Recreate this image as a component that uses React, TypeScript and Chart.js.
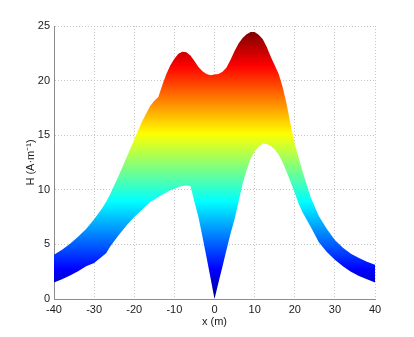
import { useEffect, useRef } from 'react';
import { Chart, registerables } from 'chart.js';

Chart.register(...registerables);

const xValues = [-40, -38, -36, -34, -32, -30, -28, -27, -26, -24, -22, -20, -18, -16, -15, -14, -13, -12, -11, -10, -9, -8, -7, -6, -5, -4, -3, -2, -1, 0, 1, 2, 3, 4, 5, 6, 7, 8, 9, 10, 11, 12, 13, 14, 15, 16, 17, 18, 19, 20, 21, 22, 24, 26, 28, 30, 32, 34, 36, 38, 40];

const upperH = [4.05, 4.5, 5.05, 5.7, 6.4, 7.3, 8.3, 8.9, 9.6, 11.2, 12.9, 14.6, 16.3, 17.7, 18.15, 18.5, 19.6, 20.6, 21.4, 22.0, 22.45, 22.65, 22.6, 22.3, 21.8, 21.25, 20.85, 20.6, 20.5, 20.55, 20.6, 20.8, 21.2, 21.9, 22.7, 23.4, 23.9, 24.25, 24.45, 24.45, 24.2, 23.8, 23.1, 22.2, 21.4, 20.6, 19.4, 17.8, 15.9, 14.2, 12.9, 11.6, 9.3, 7.6, 6.4, 5.4, 4.7, 4.15, 3.75, 3.4, 3.14];

const lowerH = [1.5, 1.8, 2.15, 2.55, 3.0, 3.3, 3.9, 4.2, 4.8, 5.8, 6.7, 7.5, 8.2, 8.9, 9.1, 9.35, 9.55, 9.75, 9.95, 10.1, 10.25, 10.35, 10.4, 10.35, 8.9, 7.5, 5.7, 3.85, 1.95, 0, 1.5, 3.0, 4.5, 6.0, 7.3, 8.9, 10.55, 11.8, 12.85, 13.5, 13.95, 14.25, 14.2, 14.0, 13.7, 13.2, 12.5, 11.6, 10.7, 9.7, 8.7, 7.9, 6.6, 5.2, 4.3, 3.6, 3.0, 2.5, 2.1, 1.8, 1.52];

const xTickValues = [-40, -30, -20, -10, 0, 10, 20, 30, 40];
const yTickValues = [0, 5, 10, 15, 20, 25];

const colorMin = 0;
const colorMax = 24.45;
const jetStops: [number, string][] = [
  [0, '#00008f'],
  [0.111, '#0000ff'],
  [0.365, '#00ffff'],
  [0.619, '#ffff00'],
  [0.873, '#ff0000'],
  [1, '#800000'],
];

const FONT = 'Liberation Sans, Arial, Helvetica, sans-serif';

export default function App() {
  const ref = useRef<HTMLCanvasElement>(null);

  useEffect(() => {
    const jetFill = (context: any) => {
      const chart = context.chart;
      const { ctx, chartArea, scales } = chart;
      if (!chartArea || !scales.y) return 'rgba(0,0,0,0)';
      const y0 = scales.y.getPixelForValue(colorMin);
      const y1 = scales.y.getPixelForValue(colorMax);
      const g = ctx.createLinearGradient(0, y0, 0, y1);
      jetStops.forEach(([s, c]) => g.addColorStop(s, c));
      return g;
    };

    const chart = new Chart(ref.current!, {
      type: 'line',
      data: {
        datasets: [
          {
            label: 'upper',
            data: xValues.map((x, i) => ({ x, y: upperH[i] })),
            fill: '+1',
            backgroundColor: jetFill,
            borderColor: 'rgba(0,0,0,0)',
            borderWidth: 0,
            pointRadius: 0,
            tension: 0,
          },
          {
            label: 'lower',
            data: xValues.map((x, i) => ({ x, y: lowerH[i] })),
            fill: false,
            borderColor: 'rgba(0,0,0,0)',
            borderWidth: 0,
            pointRadius: 0,
            tension: 0,
          },
        ],
      },
      options: {
        responsive: false,
        animation: false,
        events: [],
        layout: { padding: { left: 0, top: 26, right: 39, bottom: 0 } },
        plugins: { legend: { display: false }, tooltip: { enabled: false } },
        scales: {
          x: {
            type: 'linear',
            min: -40,
            max: 40,
            afterBuildTicks: (scale: any) => {
              scale.ticks = xTickValues.map((v) => ({ value: v }));
            },
            afterFit: (scale: any) => {
              scale.height = 38;
            },
            ticks: {
              color: '#1a1a1a',
              font: { family: FONT, size: 11 },
              padding: 4,
              maxRotation: 0,
            },
            grid: { color: '#c4c4c4', lineWidth: 1, drawTicks: false },
            border: { display: true, color: '#8c8c8c', width: 1, dash: [1, 2] },
            title: {
              display: true,
              text: 'x (m)',
              color: '#1a1a1a',
              font: { family: FONT, size: 11 },
              padding: { top: 0, bottom: 8 },
            },
          },
          y: {
            type: 'linear',
            min: 0,
            max: 25,
            afterBuildTicks: (scale: any) => {
              scale.ticks = yTickValues.map((v) => ({ value: v }));
            },
            afterFit: (scale: any) => {
              scale.width = 54;
            },
            ticks: {
              color: '#1a1a1a',
              font: { family: FONT, size: 11 },
              padding: 4,
            },
            grid: { color: '#c4c4c4', lineWidth: 1, drawTicks: false },
            border: { display: true, color: '#8c8c8c', width: 1, dash: [1, 2] },
            title: {
              display: true,
              text: 'H (A·m⁻¹)',
              color: '#1a1a1a',
              font: { family: FONT, size: 11 },
              padding: { top: 24, bottom: 0 },
            },
          },
        },
      },
    });
    return () => chart.destroy();
  }, []);

  return (
    <div style={{ position: 'absolute', left: 0, top: 0, width: 414, height: 337, background: '#ffffff' }}>
      <canvas ref={ref} width={414} height={337} style={{ display: 'block', width: 414, height: 337 }} />
    </div>
  );
}
